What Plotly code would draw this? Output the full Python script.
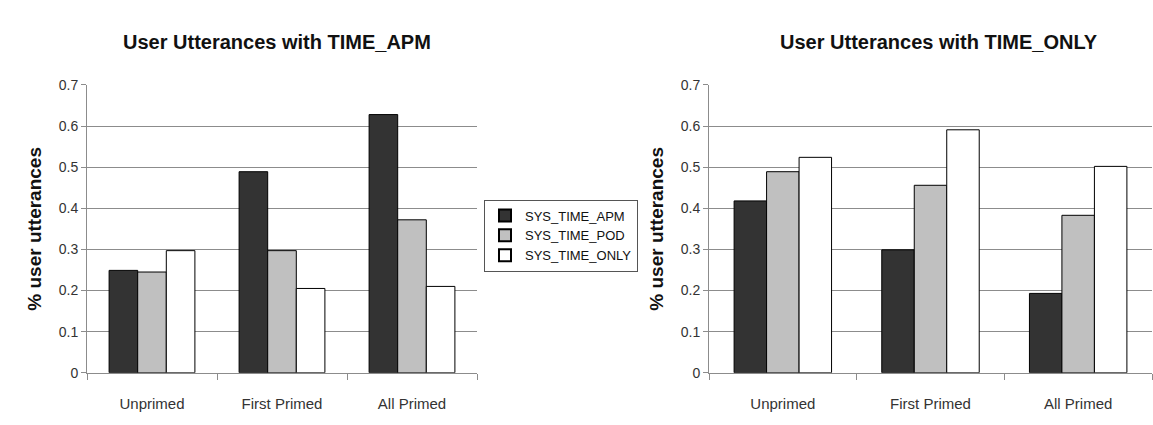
import plotly.graph_objects as go

categories = ["Unprimed", "First Primed", "All Primed"]
series_names = ["SYS_TIME_APM", "SYS_TIME_POD", "SYS_TIME_ONLY"]
apm_chart = {
    "SYS_TIME_APM": [0.249, 0.489, 0.628],
    "SYS_TIME_POD": [0.245, 0.297, 0.372],
    "SYS_TIME_ONLY": [0.297, 0.205, 0.210],
}
only_chart = {
    "SYS_TIME_APM": [0.418, 0.299, 0.193],
    "SYS_TIME_POD": [0.489, 0.456, 0.383],
    "SYS_TIME_ONLY": [0.524, 0.591, 0.502],
}
titles = ["User Utterances with TIME_APM", "User Utterances with TIME_ONLY"]
y_ticks = [0, 0.1, 0.2, 0.3, 0.4, 0.5, 0.6, 0.7]
y_ticktext = ["0", "0.1", "0.2", "0.3", "0.4", "0.5", "0.6", "0.7"]

colors = {"SYS_TIME_APM": "#333333", "SYS_TIME_POD": "#c0c0c0", "SYS_TIME_ONLY": "#ffffff"}

W, H = 1153, 425
fig = go.Figure()

for i, data in enumerate([apm_chart, only_chart]):
    xa = "x" if i == 0 else "x2"
    ya = "y" if i == 0 else "y2"
    for name in series_names:
        fig.add_trace(go.Bar(
            x=categories, y=data[name], name=name,
            marker=dict(color=colors[name], line=dict(color="#000000", width=1)),
            xaxis=xa, yaxis=ya, showlegend=(i == 0),
        ))

font_family = "Liberation Sans, Arial, sans-serif"

def px_x(p):
    return p / W

def px_y(p):
    return (H - p) / H

axis_common_y = dict(
    range=[0, 0.7], tickvals=y_ticks, ticktext=y_ticktext,
    showgrid=True, gridcolor="#8c8c8c", gridwidth=1,
    showline=True, linecolor="#8c8c8c", linewidth=1,
    ticks="outside", ticklen=5, tickcolor="#8c8c8c",
    tickfont=dict(size=14, color="#333333", family=font_family),
    zeroline=False,
    title=dict(text="<b>% user utterances</b>", font=dict(size=19, color="#111111", family=font_family), standoff=12),
)
axis_common_x = dict(
    showline=True, linecolor="#8c8c8c", linewidth=1,
    ticks="outside", ticklen=6, tickcolor="#8c8c8c", tickson="boundaries",
    tickfont=dict(size=15, color="#333333", family=font_family),
    ticklabelstandoff=17,
    showgrid=False,
)

fig.update_layout(
    width=W, height=H,
    margin=dict(l=0, r=0, t=0, b=0),
    paper_bgcolor="#ffffff", plot_bgcolor="#ffffff",
    barmode="group", bargap=0.34, bargroupgap=0,
    font=dict(family=font_family, color="#111111"),
    xaxis=dict(domain=[px_x(87), px_x(477)], anchor="y", **axis_common_x),
    yaxis=dict(domain=[px_y(379), px_y(80)], anchor="x", **axis_common_y),
    xaxis2=dict(domain=[px_x(709), px_x(1152)], anchor="y2", **axis_common_x),
    yaxis2=dict(domain=[px_y(379), px_y(80)], anchor="x2", **axis_common_y),
    legend=dict(
        x=px_x(484), y=px_y(199), xanchor="left", yanchor="top",
        bordercolor="#555555", borderwidth=1, bgcolor="#ffffff",
        font=dict(size=13, color="#111111", family=font_family),
        itemsizing="constant", tracegroupgap=0, itemwidth=30,
    ),
    annotations=[
        dict(text="<b>" + titles[0] + "</b>", x=px_x(277), y=px_y(35), xref="paper", yref="paper",
             xanchor="center", yanchor="middle",
             showarrow=False, font=dict(size=20, color="#111111", family=font_family)),
        dict(text="<b>" + titles[1] + "</b>", x=px_x(939), y=px_y(35), xref="paper", yref="paper",
             xanchor="center", yanchor="middle",
             showarrow=False, font=dict(size=20, color="#111111", family=font_family)),
    ],
)

fig.write_html("out.html")
